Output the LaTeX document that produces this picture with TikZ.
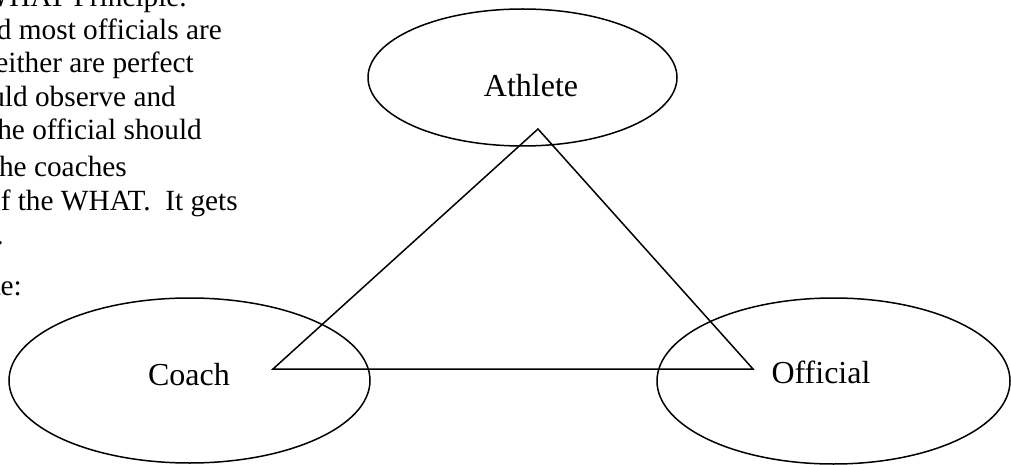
\documentclass[tikz,border=0pt]{standalone}
\usepackage{fontspec}
\setmainfont{Liberation Serif}
\usetikzlibrary{shapes.geometric}
\begin{document}
\begin{tikzpicture}[x=1pt,y=-1pt,
  oval/.style={draw, ellipse, line width=1.5pt, inner sep=0pt},
  body/.style={anchor=base east, inner sep=0pt, font=\fontsize{29.3}{34}\selectfont},
  lbl/.style={anchor=base, inner sep=0pt, font=\fontsize{32}{38}\selectfont},
  tri/.style={line width=1.5pt, line join=miter}]
\useasboundingbox (0,0) rectangle (1011,465);
\clip (0,0) rectangle (1011,465);
% body text fragments
\node[body] (t1) at (187,7) {WHAT Principle.};
\node[body] (t2) at (222,40) {d most officials are};
\node[body] (t3) at (194,73) {either are perfect};
\node[body] (t4) at (176,107) {uld observe and};
\node[body] (t5) at (202,140) {he official should};
\node[body] (t6) at (127,176) {he coaches};
\node[body] (t7) at (238,210) {f the WHAT.\hspace{0.5em}It gets};
\node[body] (t8) at (4,244) {.};
\node[body] (t9) at (22,295) {te:};
% ellipses
\node[oval, minimum width=309pt, minimum height=137pt] (athlete) at (522.5,77.5) {};
\node[oval, minimum width=361pt, minimum height=165pt] (coach) at (189.5,380.5) {};
\node[oval, minimum width=353pt, minimum height=166pt] (official) at (833.5,381) {};
\node[lbl] (la) at (531,97) {Athlete};
\node[lbl] (lc) at (189,385) {Coach};
\node[lbl] (lo) at (821,383) {Official};
% triangle
\coordinate (apex) at (538,129);
\coordinate (left) at (273,369);
\coordinate (right) at (753,369);
\draw[tri] (apex) -- (left) -- (right) -- cycle;
\end{tikzpicture}
\end{document}
